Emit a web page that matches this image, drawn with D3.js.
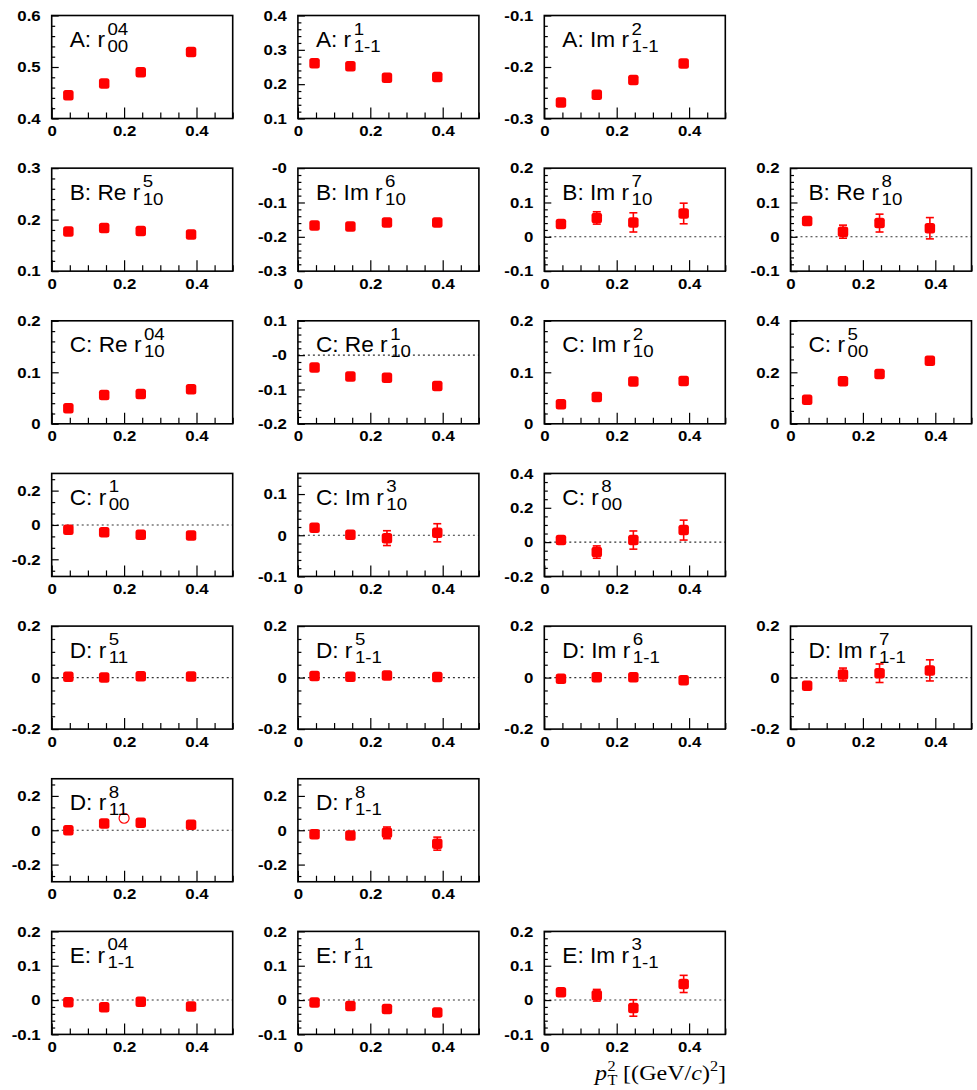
<!DOCTYPE html>
<html><head><meta charset="utf-8">
<script src="https://cdn.jsdelivr.net/npm/d3@7"></script>
<style>body{margin:0;background:#fff;} svg{display:block;}</style>
</head><body><svg id="c" width="977" height="1090"></svg>
<script>
// ---------------- data ----------------
const pT2 = [0.046, 0.145, 0.246, 0.385];
const xDomain = [0, 0.5];
const xTickLabels = ["0", "0.2", "0.4"];

const A_r00_04 = [0.445, 0.468, 0.490, 0.529];      const A_r00_04_err = [0.005, 0.005, 0.006, 0.008];
const A_r1m1_1 = [0.261, 0.252, 0.219, 0.221];      const A_r1m1_1_err = [0.006, 0.006, 0.007, 0.008];
const A_Im_r1m1_2 = [-0.269, -0.254, -0.225, -0.193]; const A_Im_r1m1_2_err = [0.006, 0.006, 0.008, 0.011];
const B_Re_r10_5 = [0.177, 0.184, 0.178, 0.171];    const B_Re_r10_5_err = [0.004, 0.004, 0.005, 0.005];
const B_Im_r10_6 = [-0.167, -0.170, -0.158, -0.158]; const B_Im_r10_6_err = [0.005, 0.005, 0.006, 0.007];
const B_Im_r10_7 = [0.037, 0.055, 0.042, 0.068];    const B_Im_r10_7_err = [0.008, 0.018, 0.028, 0.030];
const B_Re_r10_8 = [0.046, 0.015, 0.040, 0.025];    const B_Re_r10_8_err = [0.006, 0.019, 0.026, 0.031];
const C_Re_r10_04 = [0.030, 0.056, 0.058, 0.067];   const C_Re_r10_04_err = [0.005, 0.005, 0.006, 0.007];
const C_Re_r10_1 = [-0.036, -0.062, -0.066, -0.090]; const C_Re_r10_1_err = [0.006, 0.006, 0.007, 0.008];
const C_Im_r10_2 = [0.038, 0.052, 0.082, 0.083];    const C_Im_r10_2_err = [0.005, 0.006, 0.006, 0.007];
const C_r00_5 = [0.093, 0.165, 0.193, 0.245];       const C_r00_5_err = [0.008, 0.009, 0.009, 0.010];
const C_r00_1 = [-0.028, -0.042, -0.057, -0.061];   const C_r00_1_err = [0.010, 0.012, 0.012, 0.014];
const C_Im_r10_3 = [0.018, 0.001, -0.007, 0.006];   const C_Im_r10_3_err = [0.006, 0.008, 0.018, 0.022];
const C_r00_8 = [0.012, -0.058, 0.012, 0.070];      const C_r00_8_err = [0.012, 0.036, 0.053, 0.058];
const D_r11_5 = [0.003, 0.000, 0.005, 0.004];       const D_r11_5_err = [0.006, 0.006, 0.008, 0.010];
const D_r1m1_5 = [0.006, 0.003, 0.008, 0.002];      const D_r1m1_5_err = [0.006, 0.006, 0.008, 0.008];
const D_Im_r1m1_6 = [-0.004, 0.001, 0.001, -0.010]; const D_Im_r1m1_6_err = [0.006, 0.006, 0.007, 0.010];
const D_Im_r1m1_7 = [-0.032, 0.012, 0.017, 0.028];  const D_Im_r1m1_7_err = [0.015, 0.025, 0.036, 0.041];
const D_r11_8 = [0.000, 0.040, 0.044, 0.032];       const D_r11_8_err = [0.010, 0.012, 0.014, 0.016];
const D_r1m1_8 = [-0.024, -0.030, -0.015, -0.078];  const D_r1m1_8_err = [0.010, 0.012, 0.034, 0.038];
const E_r1m1_04 = [-0.006, -0.021, -0.005, -0.019]; const E_r1m1_04_err = [0.004, 0.005, 0.006, 0.007];
const E_r11_1 = [-0.007, -0.017, -0.026, -0.036];   const E_r11_1_err = [0.004, 0.005, 0.006, 0.007];
const E_Im_r1m1_3 = [0.023, 0.014, -0.023, 0.047];  const E_Im_r1m1_3_err = [0.008, 0.017, 0.024, 0.025];

// extra open-circle point in D: r^8_11
const openX = [0.2];
const openY = [0.07];

// titles: prefix, superscript, subscript
const titlePrefix = ["A: ", "A: ", "A: Im ", "B: Re ", "B: Im ", "B: Im ", "B: Re ",
  "C: Re ", "C: Re ", "C: Im ", "C: ", "C: ", "C: Im ", "C: ",
  "D: ", "D: ", "D: Im ", "D: Im ", "D: ", "D: ", "E: ", "E: ", "E: Im "];
const titleSup = ["04", "1", "2", "5", "6", "7", "8", "04", "1", "2", "5", "1", "3", "8",
  "5", "5", "6", "7", "8", "8", "04", "1", "3"];
const titleSub = ["00", "1-1", "1-1", "10", "10", "10", "10", "10", "10", "10", "00", "00", "10", "00",
  "11", "1-1", "1-1", "1-1", "11", "1-1", "1-1", "11", "1-1"];

const yMin = [0.4, 0.1, -0.3, 0.1, -0.3, -0.1, -0.1, 0, -0.2, 0, 0, -0.3, -0.1, -0.2,
  -0.2, -0.2, -0.2, -0.2, -0.3, -0.3, -0.1, -0.1, -0.1];
const yMax = [0.6, 0.4, -0.1, 0.3, 0, 0.2, 0.2, 0.2, 0.1, 0.2, 0.4, 0.3, 0.15, 0.4,
  0.2, 0.2, 0.2, 0.2, 0.3, 0.3, 0.2, 0.2, 0.2];
const yTickLabels = [
  ["0.4", "0.5", "0.6"], ["0.1", "0.2", "0.3", "0.4"], ["-0.3", "-0.2", "-0.1"],
  ["0.1", "0.2", "0.3"], ["-0.3", "-0.2", "-0.1", "-0"], ["-0.1", "0", "0.1", "0.2"], ["-0.1", "0", "0.1", "0.2"],
  ["0", "0.1", "0.2"], ["-0.2", "-0.1", "-0", "0.1"], ["0", "0.1", "0.2"], ["0", "0.2", "0.4"],
  ["-0.2", "0", "0.2"], ["-0.1", "0", "0.1"], ["-0.2", "0", "0.2", "0.4"],
  ["-0.2", "0", "0.2"], ["-0.2", "0", "0.2"], ["-0.2", "0", "0.2"], ["-0.2", "0", "0.2"],
  ["-0.2", "0", "0.2"], ["-0.2", "0", "0.2"],
  ["-0.1", "0", "0.1", "0.2"], ["-0.1", "0", "0.1", "0.2"], ["-0.1", "0", "0.1", "0.2"]];
const yMinorStep = [0.02, 0.02, 0.02, 0.02, 0.02, 0.02, 0.02, 0.02, 0.02, 0.02, 0.05, 0.2 / 3, 0.02, 0.05,
  0.05, 0.05, 0.05, 0.05, 0.2 / 3, 0.2 / 3, 0.02, 0.02, 0.02];

const seriesValues = [A_r00_04, A_r1m1_1, A_Im_r1m1_2, B_Re_r10_5, B_Im_r10_6, B_Im_r10_7, B_Re_r10_8,
  C_Re_r10_04, C_Re_r10_1, C_Im_r10_2, C_r00_5, C_r00_1, C_Im_r10_3, C_r00_8,
  D_r11_5, D_r1m1_5, D_Im_r1m1_6, D_Im_r1m1_7, D_r11_8, D_r1m1_8, E_r1m1_04, E_r11_1, E_Im_r1m1_3];
const seriesErrors = [A_r00_04_err, A_r1m1_1_err, A_Im_r1m1_2_err, B_Re_r10_5_err, B_Im_r10_6_err, B_Im_r10_7_err, B_Re_r10_8_err,
  C_Re_r10_04_err, C_Re_r10_1_err, C_Im_r10_2_err, C_r00_5_err, C_r00_1_err, C_Im_r10_3_err, C_r00_8_err,
  D_r11_5_err, D_r1m1_5_err, D_Im_r1m1_6_err, D_Im_r1m1_7_err, D_r11_8_err, D_r1m1_8_err, E_r1m1_04_err, E_r11_1_err, E_Im_r1m1_3_err];

// ---------------- layout ----------------
const gridRow = [0, 0, 0, 1, 1, 1, 1, 2, 2, 2, 2, 3, 3, 3, 4, 4, 4, 4, 5, 5, 6, 6, 6];
const gridCol = [0, 1, 2, 0, 1, 2, 3, 0, 1, 2, 3, 0, 1, 2, 0, 1, 2, 3, 0, 1, 0, 1, 2];
const openPanel = 18;
const colLeft = [51.7, 297.9, 544.3, 790.5];
const rowTop0 = 15.5, rowStep = 152.65;
const W = 181, H = 103;
const RED = "#ff0000";
const MS = 10.5;
const LBL_SX = 1.12;   // horizontal stretch of the tick labels
const TTL_SX = 1.03;   // horizontal stretch of titles
const SCR_SX = 1.1;

const svg = d3.select("#c");
svg.append("rect").attr("width", 977).attr("height", 1090).attr("fill", "#fff");

const sansFont = "'Liberation Sans', Arial, Helvetica, sans-serif";

seriesValues.forEach((vals, i) => {
  const g = svg.append("g")
    .attr("transform", `translate(${colLeft[gridCol[i]]},${rowTop0 + rowStep * gridRow[i]})`);
  const x = d3.scaleLinear().domain(xDomain).range([0, W]);
  const y = d3.scaleLinear().domain([yMin[i], yMax[i]]).range([H, 0]);

  // zero line
  if (yMin[i] < 0 && yMax[i] > 0) {
    g.append("line").attr("x1", 0).attr("x2", W).attr("y1", y(0)).attr("y2", y(0))
      .attr("stroke", "#333").attr("stroke-width", 1.1).attr("stroke-dasharray", "2,3");
  }

  // x axis
  const xMajor = xTickLabels.map(Number);
  const xMinor = d3.range(0, 0.5001, 0.05).filter(v => !xMajor.some(m => Math.abs(m - v) < 1e-6));
  const xa = g.append("g").attr("transform", `translate(0,${H})`);
  xa.append("g").call(d3.axisBottom(x).tickValues(xMinor).tickSize(-6).tickFormat(""))
    .call(a => a.select(".domain").remove());
  const xaMaj = xa.append("g").call(d3.axisBottom(x).tickValues(xMajor).tickSize(-11).tickPadding(7)
      .tickFormat((d, k) => xTickLabels[k]))
    .call(a => a.select(".domain").remove());
  xaMaj.selectAll(".tick text").attr("transform", `scale(${LBL_SX},1)`);

  // y axis
  const yMajor = yTickLabels[i].map(Number);
  const st = yMinorStep[i];
  const k0 = Math.ceil(yMin[i] / st - 1e-6), k1 = Math.floor(yMax[i] / st + 1e-6);
  const yMinor = d3.range(k0, k1 + 1).map(k => k * st)
    .filter(v => !yMajor.some(m => Math.abs(m - v) < 1e-6));
  const ya = g.append("g");
  ya.append("g").call(d3.axisLeft(y).tickValues(yMinor).tickSize(-3.5).tickFormat(""))
    .call(a => a.select(".domain").remove());
  const yaMaj = ya.append("g").call(d3.axisLeft(y).tickValues(yMajor).tickSize(-7).tickPadding(11)
      .tickFormat((d, k) => yTickLabels[i][k]))
    .call(a => a.select(".domain").remove());
  yaMaj.selectAll(".tick text").attr("x", 0).attr("transform", `translate(-11,0) scale(${LBL_SX},1)`);

  g.selectAll(".tick line").attr("stroke", "#000").attr("stroke-width", 1.2);
  g.selectAll(".tick text").attr("font-family", sansFont).attr("font-size", 15)
    .attr("font-weight", "bold").attr("fill", "#000");

  // frame
  g.append("rect").attr("width", W).attr("height", H).attr("fill", "none")
    .attr("stroke", "#000").attr("stroke-width", 1.6);

  // error bars
  const errs = seriesErrors[i];
  const pts = vals.map((v, k) => ({ x: pT2[k], y: v, e: errs[k] }));
  const eb = g.append("g").attr("stroke", RED).attr("stroke-width", 1.6);
  pts.forEach(p => {
    const cx = x(p.x), cy = y(p.y), yt = y(p.y + p.e), yb = y(p.y - p.e);
    if (cy - yt > MS / 2 + 0.5) {
      eb.append("line").attr("x1", cx).attr("x2", cx).attr("y1", yt).attr("y2", yb);
      eb.append("line").attr("x1", cx - 4).attr("x2", cx + 4).attr("y1", yt).attr("y2", yt);
      eb.append("line").attr("x1", cx - 4).attr("x2", cx + 4).attr("y1", yb).attr("y2", yb);
    }
  });
  // markers
  g.append("g").selectAll("rect").data(pts).join("rect")
    .attr("x", d => x(d.x) - MS / 2).attr("y", d => y(d.y) - MS / 2)
    .attr("width", MS).attr("height", MS).attr("rx", 2.5).attr("fill", RED);

  if (i === openPanel) {
    g.append("g").selectAll("circle").data(openX).join("circle")
      .attr("cx", d => x(d)).attr("cy", (d, k) => y(openY[k])).attr("r", 5)
      .attr("fill", "#fff").attr("stroke", RED).attr("stroke-width", 1.2);
  }

  // title
  const tx = 18, ty = 31.5;
  const main = g.append("text").attr("transform", `translate(${tx},${ty}) scale(${TTL_SX},1)`)
    .attr("font-family", sansFont).attr("font-size", 22).attr("fill", "#000").text(titlePrefix[i] + "r");
  const sx = tx + main.node().getComputedTextLength() * TTL_SX + 2.5;
  g.append("text").attr("transform", `translate(${sx},${ty - 12.5}) scale(${SCR_SX},1)`)
    .attr("font-family", sansFont).attr("font-size", 17).attr("fill", "#000").text(titleSup[i]);
  g.append("text").attr("transform", `translate(${sx},${ty + 5}) scale(${SCR_SX},1)`)
    .attr("font-family", sansFont).attr("font-size", 17).attr("fill", "#000").text(titleSub[i]);
});

// x-axis title
const serif = "'Liberation Serif', 'Times New Roman', serif";
const XSX = 1.12;
const xl = svg.append("g").attr("transform", `translate(595,1080) scale(${XSX},1)`)
  .attr("font-family", serif).attr("fill", "#000");
let cx = 0;
const tp = xl.append("text").attr("x", cx).attr("y", 0).attr("font-size", 21.5)
  .attr("font-style", "italic").text("p");
cx += tp.node().getComputedTextLength() + 0.5;
const tT = xl.append("text").attr("x", cx).attr("y", 5).attr("font-size", 14.5).text("T");
const t2 = xl.append("text").attr("x", cx).attr("y", -9.5).attr("font-size", 14.5).text("2");
cx += Math.max(tT.node().getComputedTextLength(), t2.node().getComputedTextLength()) + 5;
const rest = xl.append("text").attr("x", cx).attr("y", 0).attr("font-size", 21.5);
rest.append("tspan").text("[(GeV/");
rest.append("tspan").attr("font-style", "italic").text("c");
rest.append("tspan").text(")");
rest.append("tspan").attr("font-size", 14.5).attr("dy", -9.5).text("2");
rest.append("tspan").attr("font-size", 21.5).attr("dy", 9.5).text("]");
</script></body></html>
